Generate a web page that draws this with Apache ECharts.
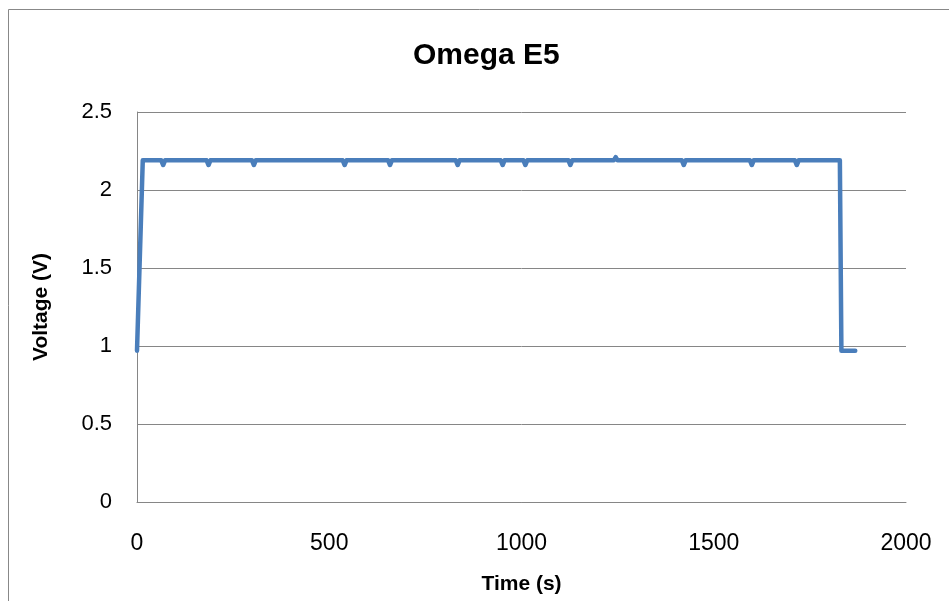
<!DOCTYPE html>
<html>
<head>
<meta charset="utf-8">
<script src="https://cdn.jsdelivr.net/npm/echarts@6/dist/echarts.min.js"></script>
<style>html,body{margin:0;padding:0;background:#fff;}#c{width:949px;height:601px;}</style>
</head>
<body>
<div id="c"></div>
<script>
var timeS = [0, 5, 15, 63, 68, 73, 181, 186, 191, 299, 304, 309, 535, 540, 545, 653, 658, 663, 829, 834, 839, 946, 951, 956, 1005, 1010, 1015, 1122, 1127, 1132, 1240, 1245, 1250, 1417, 1422, 1427, 1594, 1599, 1604, 1711, 1716, 1721, 1822, 1828, 1832, 1868];
var voltage = [0.97, 0.97, 2.19, 2.19, 2.16, 2.19, 2.19, 2.16, 2.19, 2.19, 2.16, 2.19, 2.19, 2.16, 2.19, 2.19, 2.16, 2.19, 2.19, 2.16, 2.19, 2.19, 2.16, 2.19, 2.19, 2.16, 2.19, 2.19, 2.16, 2.19, 2.19, 2.21, 2.19, 2.19, 2.16, 2.19, 2.19, 2.16, 2.19, 2.19, 2.16, 2.19, 2.19, 2.19, 0.97, 0.97];
var xTicks = [0, 500, 1000, 1500, 2000];
var yTicks = [0, 0.5, 1, 1.5, 2, 2.5];

var pts = timeS.map(function (t, i) { return [t, voltage[i]]; });
var chart = echarts.init(document.getElementById('c'));
var font = '"Liberation Sans", "DejaVu Sans", sans-serif';
chart.setOption({
  animation: false,
  backgroundColor: '#fff',
  graphic: [{
    type: 'rect',
    shape: { x: 8.5, y: 9.5, width: 1200, height: 1200 },
    style: { fill: 'none', stroke: '#888', lineWidth: 1 }
  }],
  title: {
    text: 'Omega E5', left: 408, top: 36,
    textStyle: { fontFamily: font, fontSize: 30, fontWeight: 'bold', color: '#000' }
  },
  grid: { left: 137, right: 43, top: 112, bottom: 99 },
  xAxis: {
    type: 'value', min: xTicks[0], max: xTicks[xTicks.length - 1], interval: 500,
    name: 'Time (s)', nameLocation: 'middle', nameGap: 72,
    nameTextStyle: { fontFamily: font, fontSize: 21, fontWeight: 'bold', color: '#000' },
    axisLine: { show: true, lineStyle: { color: '#868686', width: 1 } },
    axisTick: { show: false },
    axisLabel: { fontFamily: font, fontSize: 23, color: '#000', margin: 30, formatter: function (v) { return String(v); } },
    splitLine: { show: false }
  },
  yAxis: {
    type: 'value', min: yTicks[0], max: yTicks[yTicks.length - 1], interval: 0.5,
    name: 'Voltage (V)', nameLocation: 'middle', nameGap: 85, nameRotate: 90,
    nameTextStyle: { fontFamily: font, fontSize: 21, fontWeight: 'bold', color: '#000' },
    axisLine: { show: true, lineStyle: { color: '#868686', width: 1 } },
    axisTick: { show: false },
    axisLabel: { fontFamily: font, fontSize: 22, color: '#000', margin: 25, formatter: function (v) { return String(v); } },
    splitLine: { show: true, lineStyle: { color: '#868686', width: 1 } }
  },
  series: [{
    type: 'line', data: pts, showSymbol: false,
    lineStyle: { color: '#4a7ebb', width: 4.5, join: 'round', cap: 'round' },
    itemStyle: { color: '#4a7ebb' }
  }]
});
</script>
</body>
</html>
